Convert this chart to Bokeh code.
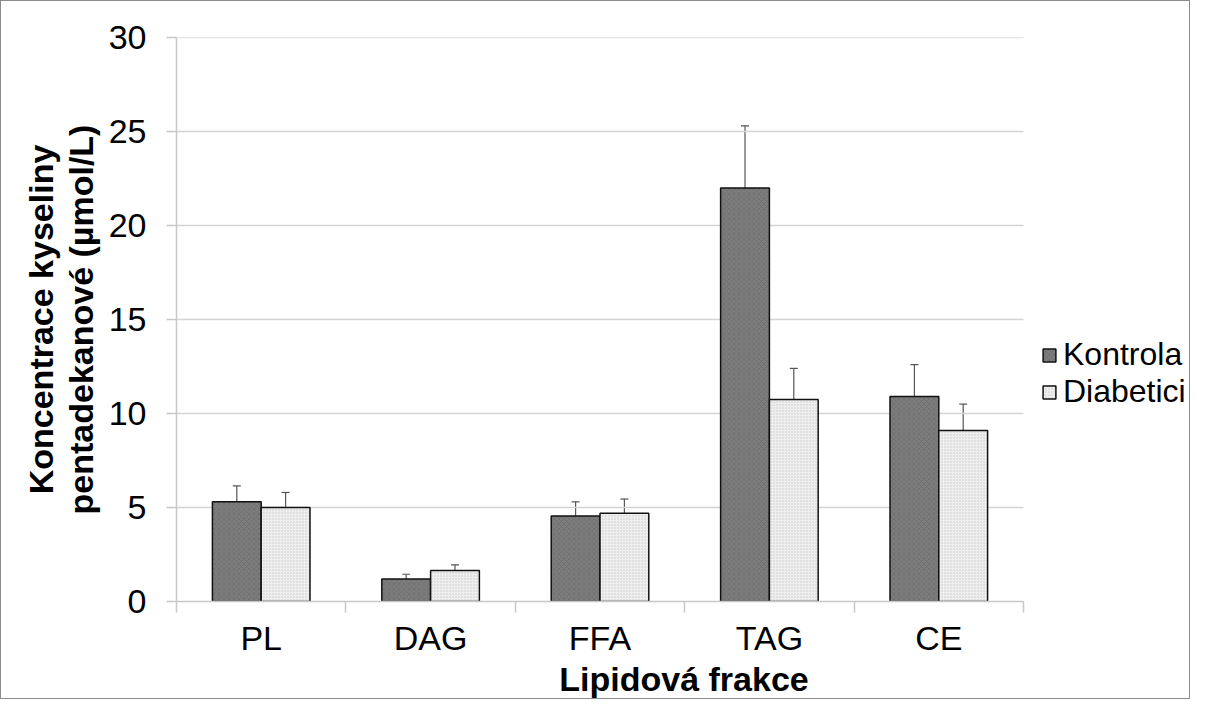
import numpy as np
from bokeh.plotting import figure
from bokeh.models import (ColumnDataSource, FixedTicker, Whisker, TeeHead, Legend, LegendItem,
                          Range1d)
from bokeh.embed import file_html
from bokeh.resources import INLINE

categories = ["PL", "DAG", "FFA", "TAG", "CE"]
kontrola = [5.3, 1.2, 4.55, 22.0, 10.9]
kontrola_err = [0.85, 0.25, 0.75, 3.3, 1.7]
diabetici = [5.0, 1.65, 4.7, 10.75, 9.1]
diabetici_err = [0.8, 0.3, 0.75, 1.65, 1.4]
y_ticks = [0, 5, 10, 15, 20, 25, 30]

FONT = "Liberation Sans"
n = len(categories)
centers = np.arange(n) + 0.5
dodge = 0.144
bw = 0.288

W, H = 1190, 699
FL, FT = 175, 36
FW, FH = 847, 565          # plotting area of the categories
FB = H - FT - FH
FR = 0
extra = (W - FL - FR) / FW  # frame extends to the right to host the legend
p = figure(width=W, height=H, output_backend="svg", toolbar_location=None,
           x_range=Range1d(0, n * extra), y_range=Range1d(0, 30),
           min_border_left=FL, min_border_right=FR, min_border_top=FT, min_border_bottom=FB)
p.styles = {"border": "1px solid #8c8c8c", "box-sizing": "border-box"}
p.outline_line_color = None
p.background_fill_color = "white"
p.border_fill_color = "white"

# grid (limited to the category area)
p.xgrid.grid_line_color = None
p.ygrid.grid_line_color = None
p.segment(x0=[0] * (len(y_ticks) - 1), x1=[n] * (len(y_ticks) - 1), y0=y_ticks[1:], y1=y_ticks[1:],
          line_color="#d4d4d4", line_width=1.5)

# y axis
p.yaxis.ticker = FixedTicker(ticks=y_ticks)
p.yaxis.axis_line_color = "#c8c8c8"
p.yaxis.axis_line_width = 1.5
p.yaxis.major_tick_line_color = "#c8c8c8"
p.yaxis.major_tick_line_width = 1.5
p.yaxis.major_tick_out = 10
p.yaxis.major_tick_in = 0
p.yaxis.minor_tick_line_color = None
p.yaxis.major_label_text_font = FONT
p.yaxis.major_label_text_font_size = "34px"
p.yaxis.major_label_text_color = "black"
p.yaxis.major_label_standoff = 20
p.yaxis.axis_label = "Koncentrace kyseliny\npentadekanové (µmol/L)"
p.yaxis.axis_label_text_font = FONT
p.yaxis.axis_label_text_font_style = "bold"
p.yaxis.axis_label_text_font_size = "34px"
p.yaxis.axis_label_text_line_height = 1.05
p.yaxis.axis_label_text_color = "black"
p.yaxis.axis_label_standoff = 6

# x axis
p.xaxis.bounds = (0, n)
p.xaxis.ticker = FixedTicker(ticks=list(centers), minor_ticks=list(range(n + 1)))
p.xaxis.major_label_overrides = {float(c): cat for c, cat in zip(centers, categories)}
p.xaxis.major_tick_line_color = None
p.xaxis.minor_tick_line_color = "#c8c8c8"
p.xaxis.minor_tick_line_width = 1.5
p.xaxis.minor_tick_out = 11
p.xaxis.minor_tick_in = 0
p.xaxis.axis_line_color = "#c8c8c8"
p.xaxis.axis_line_width = 1.5
p.xaxis.major_label_text_font = FONT
p.xaxis.major_label_text_font_size = "34px"
p.xaxis.major_label_text_line_height = 1.0
p.xaxis.major_label_text_color = "black"
p.xaxis.major_label_standoff = 6
p.xaxis.axis_label = "Lipidová frakce"
p.xaxis.axis_label_text_font = FONT
p.xaxis.axis_label_text_font_style = "bold"
p.xaxis.axis_label_text_font_size = "34px"
p.xaxis.axis_label_text_line_height = 1.0
p.xaxis.axis_label_text_color = "black"
p.xaxis.axis_label_standoff = 0

src = ColumnDataSource(dict(
    xk=centers - dodge, xd=centers + dodge,
    k=kontrola, d=diabetici,
    k_lo=np.array(kontrola) - np.array(kontrola_err), k_hi=np.array(kontrola) + np.array(kontrola_err),
    d_lo=np.array(diabetici) - np.array(diabetici_err), d_hi=np.array(diabetici) + np.array(diabetici_err),
))

rk = p.vbar(x="xk", top="k", width=bw, source=src, fill_color="#7c7c7c",
            hatch_pattern="x", hatch_color="#5e5e5e", hatch_scale=5, hatch_weight=0.6, hatch_alpha=0.6,
            line_color="#111111", line_width=1.5)
rd = p.vbar(x="xd", top="d", width=bw, source=src, fill_color="#efefef",
            hatch_pattern=".", hatch_color="#bdbdbd", hatch_scale=3, hatch_alpha=0.8,
            line_color="#111111", line_width=1.5)

for base, lo, hi in (("xk", "k_lo", "k_hi"), ("xd", "d_lo", "d_hi")):
    w = Whisker(base=base, lower=lo, upper=hi, source=src, line_color="#555555", line_width=1.2,
                upper_head=TeeHead(size=8, line_color="#555555", line_width=1.2),
                lower_head=TeeHead(size=8, line_color="#555555", line_width=1.2))
    p.add_layout(w)

legend = Legend(items=[LegendItem(label="Kontrola", renderers=[rk]),
                       LegendItem(label="Diabetici", renderers=[rd])],
                location=(FW + 18, 191), border_line_color=None, background_fill_color=None,
                label_text_font=FONT, label_text_font_size="32px", label_text_color="black",
                label_text_line_height=0.9,
                glyph_width=16, glyph_height=16, spacing=0, padding=0, margin=0,
                label_standoff=6, label_height=33)
p.add_layout(legend)

open("out.html", "w").write(file_html(p, INLINE))
